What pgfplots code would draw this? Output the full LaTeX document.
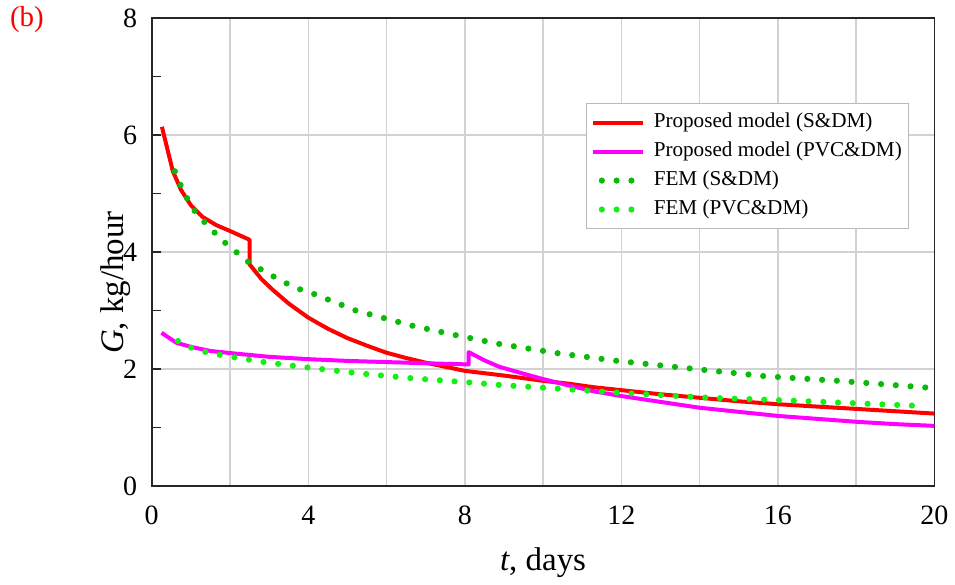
\documentclass[border=0pt]{standalone}
\usepackage{fontspec}
\setmainfont{Liberation Serif}
\usepackage{pgfplots}
\pgfplotsset{compat=1.18}

\definecolor{modelred}{RGB}{255,0,0}
\definecolor{modelmag}{RGB}{255,0,255}
\definecolor{femdark}{RGB}{10,185,10}
\definecolor{femlight}{RGB}{20,240,20}
\definecolor{gridgray}{RGB}{210,210,210}

\pgfplotsset{
  modelline/.style={line width=2pt, line join=round,
    legend image code/.code={\draw[##1, line cap=butt] (0pt,0pt) -- (25pt,0pt);}},
  femdots/.style={line width=3.1pt, line cap=round, dash pattern=on 0pt off 7.4pt,
    legend image code/.code={\path[draw=none] (0pt,0pt) -- (25pt,0pt);
      \draw[##1] (4.5pt,0pt) -- (19.5pt,0pt);}},
}

\begin{document}
\begin{tikzpicture}
\begin{axis}[
  scale only axis,
  width=392pt, height=234.5pt,
  xmin=0, xmax=20, ymin=0, ymax=8,
  xtick={0,4,...,20}, minor xtick={2,6,...,18},
  ytick={0,2,...,8}, minor ytick={1,3,5,7},
  xmajorgrids, xminorgrids, ymajorgrids,
  grid style={gridgray, line width=0.75pt},
  major grid style={gridgray, line width=0.75pt},
  minor grid style={gridgray, line width=0.75pt},
  axis line style={black!85, line width=0.85pt},
  tick align=inside,
  ytick pos=left,
  xtick style={draw=none},
  ytick style={black!85, line width=0.8pt},
  major tick length=4.5pt, minor tick length=4.5pt,
  /pgf/number format/assume math mode=true,
  ticklabel style={font=\fontsize{14}{16}\selectfont},
  xticklabel style={yshift=-6.3pt},
  yticklabel style={xshift=-3.8pt},
  xlabel={\textit{t}, days},
  ylabel={\textit{G}, kg/hour},
  label style={font=\fontsize{16.5}{19}\selectfont},
  xlabel style={at={(axis description cs:0.5,0)}, anchor=center, yshift=-38.5pt},
  ylabel style={at={([xshift=-18pt]axis description cs:0,0.435)}, anchor=center},
  clip=false,
  legend cell align=left,
  legend style={at={(0.968,0.819)}, anchor=north east,
    draw=gray!55, line width=0.5pt,
    font=\fontsize{10.6}{12}\selectfont,
    inner xsep=2pt, inner ysep=3.3pt,
    row sep=1.6pt, column sep=3pt,
    nodes={inner sep=1.5pt, text height=7.5pt, text depth=2.4pt},
    cells={anchor=west}},
]

% proposed model, steel & dry mortar
\addplot[modelred, modelline] coordinates {
  (0.26,6.14) (0.54,5.38) (0.75,5.06) (1.00,4.80) (1.30,4.60) (1.65,4.46)
  (2.00,4.36) (2.50,4.21) (2.50,3.79) (2.80,3.54) (3.10,3.35) (3.50,3.12)
  (4.00,2.88) (4.50,2.69) (5.00,2.53) (5.50,2.40) (6.00,2.28) (6.50,2.19)
  (7.00,2.11) (7.50,2.04) (8.00,1.97) (9.00,1.89) (10.00,1.80) (10.66,1.75)
  (11.30,1.69) (12.00,1.64) (13.00,1.57) (14.00,1.51) (15.00,1.45)
  (16.00,1.40) (17.00,1.36) (18.00,1.32) (19.00,1.28) (20.00,1.24)
};
\addlegendentry{Proposed model (S\&DM)}

% proposed model, PVC & dry mortar
\addplot[modelmag, modelline] coordinates {
  (0.25,2.62) (0.63,2.45) (1.00,2.38) (1.50,2.31) (2.07,2.27) (3.00,2.21)
  (4.00,2.17) (5.00,2.14) (6.00,2.12) (7.00,2.10) (8.10,2.08) (8.10,2.29)
  (8.50,2.15) (8.88,2.04) (9.40,1.94) (10.00,1.83) (10.66,1.72) (11.30,1.62)
  (12.00,1.54) (13.00,1.44) (14.00,1.34) (15.00,1.27) (16.00,1.20)
  (17.00,1.15) (18.00,1.10) (19.00,1.06) (20.00,1.03)
};
\addlegendentry{Proposed model (PVC\&DM)}

% finite element solution, steel & dry mortar
\addplot[femdark, femdots] coordinates {
  (0.59,5.38) (0.74,5.14) (0.91,4.91) (1.10,4.70) (1.35,4.51) (1.61,4.33)
  (1.89,4.15) (2.18,3.99) (2.47,3.83) (2.80,3.70) (3.12,3.58) (3.46,3.46)
  (3.80,3.36) (4.16,3.28) (4.50,3.19) (5.22,3.00) (6.00,2.86) (6.67,2.74)
  (7.77,2.58) (8.88,2.43) (10.39,2.27) (11.90,2.14) (13.77,2.01)
  (15.65,1.88) (17.53,1.80) (19.90,1.68)
};
\addlegendentry{FEM (S\&DM)}

% finite element solution, PVC & dry mortar
\addplot[femlight, femdots] coordinates {
  (0.67,2.48) (0.99,2.37) (1.33,2.30) (1.69,2.25) (2.76,2.13) (3.82,2.04)
  (5.26,1.93) (6.71,1.84) (8.16,1.77) (8.88,1.73) (10.28,1.67) (12.09,1.59)
  (14.25,1.51) (16.40,1.46) (18.21,1.41) (19.70,1.37)
};
\addlegendentry{FEM (PVC\&DM)}

\node[text=modelred, font=\fontsize{14.5}{17}\selectfont]
  at ([xshift=-62.5pt,yshift=-1pt]rel axis cs:0,1) {(b)};

\path ([xshift=-76pt,yshift=-46pt]rel axis cs:0,0)
  rectangle ([xshift=9.5pt,yshift=9pt]rel axis cs:1,1);
\end{axis}
\end{tikzpicture}
\end{document}
